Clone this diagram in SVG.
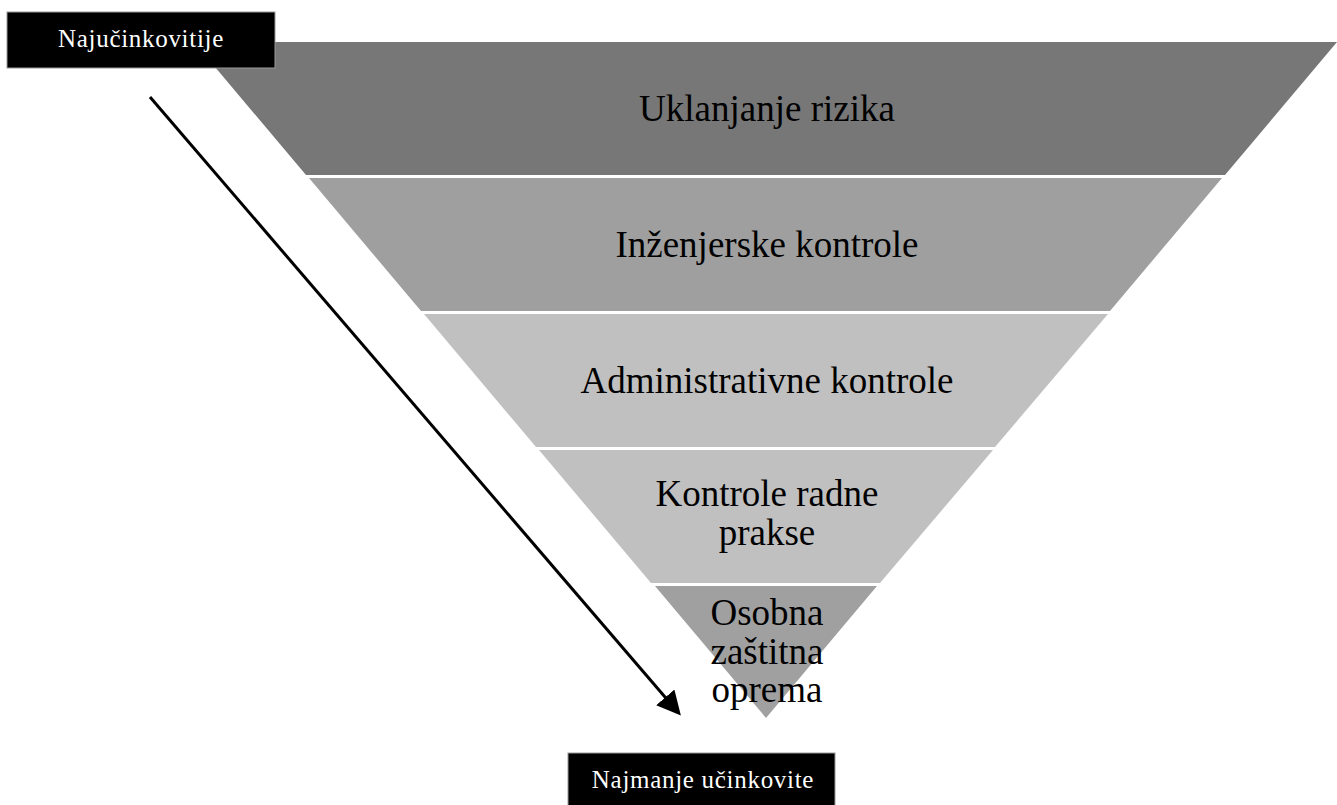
<svg xmlns="http://www.w3.org/2000/svg" width="1337" height="805" viewBox="0 0 1337 805">
<style>
.t{font-family:"Liberation Serif","Times New Roman",serif;font-size:37px;fill:#000;text-anchor:middle}
.lb{font-family:"Liberation Serif","Times New Roman",serif;font-size:25px;letter-spacing:0.7px;fill:#fff;text-anchor:middle}
</style>
<defs>
<marker id="ah" markerWidth="8" markerHeight="8" refX="6" refY="4" orient="auto" markerUnits="strokeWidth">
<path d="M0,0 L8,4 L0,8 z" fill="#000"/>
</marker>
</defs>
<rect width="1337" height="805" fill="#fff"/>
<g id="band1"><polygon points="194,42 1337,42 1225,175 306,175" fill="#777777"/><text class="t" x="767" y="121">Uklanjanje rizika</text></g>
<g id="band2"><polygon points="309,178 1222,178 1110,311 421,311" fill="#9f9f9f"/><text class="t" x="767" y="257">Inženjerske kontrole</text></g>
<g id="band3"><polygon points="424,314 1108,314 995,447 536,447" fill="#c0c0c0"/><text class="t" x="767" y="393">Administrativne kontrole</text></g>
<g id="band4"><polygon points="539,450 993,450 880,583 651,583" fill="#c0c0c0"/><text class="t" x="767" y="506">Kontrole radne</text><text class="t" x="767" y="545">prakse</text></g>
<g id="band5"><polygon points="655,586 877,586 766,718" fill="#a0a0a0"/><text class="t" x="767" y="625">Osobna</text><text class="t" x="767" y="664">zaštitna</text><text class="t" x="767" y="702">oprema</text></g>
<g id="connectors"><line x1="150" y1="97" x2="677" y2="711" stroke="#000" stroke-width="3" marker-end="url(#ah)"/></g>
<g id="top-label"><rect x="7" y="12" width="268" height="56" fill="#000" stroke="#999" stroke-width="1"/><text class="lb" x="141" y="47">Najučinkovitije</text></g>
<g id="bottom-label"><rect x="568" y="753" width="267" height="56" fill="#000" stroke="#999" stroke-width="1"/><text class="lb" x="703" y="788">Najmanje učinkovite</text></g>
</svg>
